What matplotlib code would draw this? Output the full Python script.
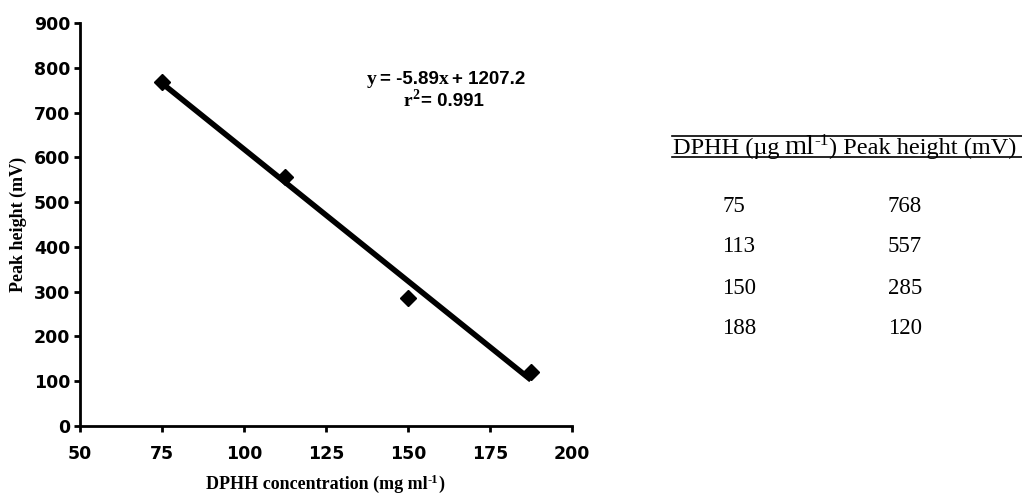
import matplotlib
matplotlib.use("Agg")
import matplotlib.pyplot as plt
from matplotlib.lines import Line2D
import numpy as np

# Data
conc = [75, 112.5, 150, 187.5]
peak = [768, 557, 285, 120]
slope = -5.89
intercept = 1207.2
table_conc = ["75", "113", "150", "188"]
table_peak = ["768", "557", "285", "120"]
xticks = [50, 75, 100, 125, 150, 175, 200]
yticks = [0, 100, 200, 300, 400, 500, 600, 700, 800, 900]

W, H = 1022, 498
fig = plt.figure(figsize=(W / 100, H / 100), dpi=100)
renderer = fig.canvas.get_renderer()
ax = fig.add_axes([80 / W, 1 - 426 / H, (572 - 80) / W, (426 - 23) / H])

fit_x = np.array([conc[0], conc[-1]])
ax.plot(fit_x, slope * fit_x + intercept, color="black", lw=4, solid_capstyle="butt", zorder=2)
ax.plot(conc, peak, linestyle="none", marker="D", ms=8, color="black", zorder=3)

ax.set_xlim(50, 200)
ax.set_ylim(0, 900)
ax.set_xticks(xticks)
ax.set_yticks(yticks)
for s in ["top", "right"]:
    ax.spines[s].set_visible(False)
for s in ["left", "bottom"]:
    ax.spines[s].set_linewidth(2)
ax.tick_params(direction="out", length=4, width=2, labelsize=12.5, pad=3)
for lab in ax.get_xticklabels() + ax.get_yticklabels():
    lab.set_fontweight("bold")
    lab.set_family("DejaVu Sans")
ax.xaxis.set_tick_params(pad=10)

ax.set_ylabel("Peak height (mV)", family="Liberation Serif", fontweight="bold", fontsize=13)
ax.yaxis.set_label_coords(-0.108, 0.5)

SERIF = "Liberation Serif"
SANS = "Liberation Sans"


def fx(px):
    return px / W


def fy(py):
    return 1 - py / H


def text_row(x_px, y_px, pieces, align="left"):
    """pieces: (string, fontsize, raise_px, weight, gap_after_px, family)"""
    objs = []
    total = 0
    for s, size, dy, weight, gap, fam in pieces:
        t = fig.text(0, 0, s, fontsize=size, family=fam, fontweight=weight, va="baseline", ha="left")
        w = t.get_window_extent(renderer).width
        objs.append((t, w, dy, gap))
        total += w + gap
    x = x_px - total / 2 if align == "center" else x_px
    for t, w, dy, gap in objs:
        t.set_position((fx(x), fy(y_px - dy)))
        x += w + gap


# x-axis label
text_row(325, 489, [
    ("DPHH concentration (mg ml", 13, 0, "bold", 0, SERIF),
    ("-1", 9, 6, "bold", 0, SERIF),
    (")", 13, 0, "bold", 0, SERIF),
], align="center")

# regression equation
text_row(446, 84, [
    ("y", 14, 0, "bold", 3, SERIF),
    ("= -5.89", 13.5, 0, "bold", 0, SANS),
    ("x", 14, 0, "bold", 3, SERIF),
    ("+ 1207.2", 13.5, 0, "bold", 0, SANS),
], align="center")
text_row(444, 106, [
    ("r", 14, 0, "bold", 0, SERIF),
    ("2", 10, 7, "bold", 2, SERIF),
    ("= 0.991", 13.5, 0, "bold", 0, SANS),
], align="center")

# Table
fig.add_artist(Line2D([fx(672), fx(1022)], [fy(136), fy(136)], color="black", lw=1.2, transform=fig.transFigure))
fig.add_artist(Line2D([fx(672), fx(1022)], [fy(157), fy(157)], color="black", lw=1.2, transform=fig.transFigure))
text_row(673, 154, [
    ("DPHH (\u00b5g", 17.5, 0, "normal", 5, SERIF),
    ("ml", 20.5, 0, "normal", 0, SERIF),
    ("-1", 12.5, 9, "normal", 0, SERIF),
    (") Peak height (mV)", 17.5, 0, "normal", 0, SERIF),
])
rows_y = [206, 246, 288, 328]
for yy, c, p in zip(rows_y, table_conc, table_peak):
    fig.text(fx(722), fy(yy), c, ha="left", va="center", fontsize=16.5, family=SERIF)
    fig.text(fx(905), fy(yy), p, ha="center", va="center", fontsize=16.5, family=SERIF)

fig.savefig("out.png", dpi=100)
